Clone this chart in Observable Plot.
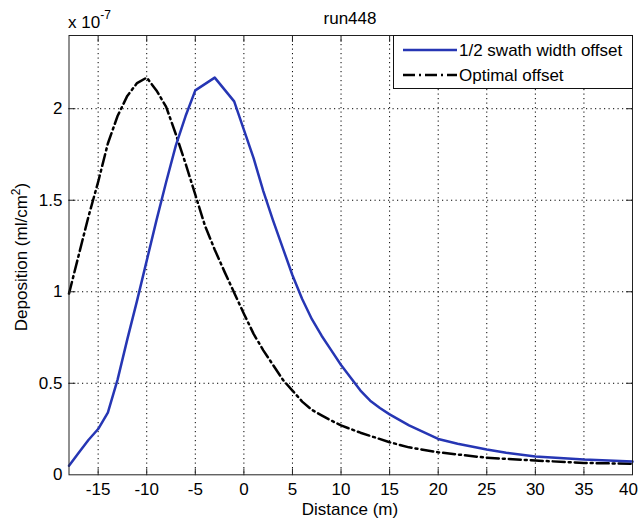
<!DOCTYPE html>
<html><head><meta charset="utf-8">
<script src="https://cdn.jsdelivr.net/npm/d3@7"></script>
<script src="https://cdn.jsdelivr.net/npm/@observablehq/plot@0.6"></script>
<style>body{margin:0;background:#fff}#chart{width:640px;height:523px}</style>
</head><body><div id="chart"></div>
<script>
// Values in units of 1e-7 ml/cm^2
const swathDistance = [-18,-17,-16,-15,-14,-13,-12,-11,-10,-9,-8,-7,-6,-5,-3,-1,1,2,3,4,5,6,7,8,9,10,11,12,13,14,15,16,17,18,20,22,25,27,30,35,40];
const swathDeposition = [0.05,0.12,0.19,0.25,0.34,0.52,0.74,0.95,1.17,1.39,1.60,1.80,1.96,2.10,2.17,2.04,1.73,1.55,1.39,1.24,1.09,0.96,0.85,0.76,0.68,0.60,0.53,0.46,0.405,0.365,0.33,0.30,0.27,0.245,0.196,0.17,0.138,0.12,0.10,0.083,0.072];
const optDistance = [-18,-17,-16,-15,-14,-13,-12,-11,-10,-9,-8,-7,-6,-5,-4,-3,-2,-1,0,1,2,3,4,5,6,7,8,9,10,12,15,17,20,25,30,35,40];
const optDeposition = [0.99,1.20,1.41,1.60,1.81,1.96,2.07,2.14,2.17,2.10,2.01,1.86,1.70,1.53,1.36,1.23,1.11,0.995,0.88,0.77,0.68,0.60,0.52,0.46,0.40,0.355,0.325,0.296,0.27,0.23,0.178,0.15,0.123,0.093,0.078,0.065,0.06];
const xTicks = [-15,-10,-5,0,5,10,15,20,25,30,35,40];
const yTicks = [0,0.5,1,1.5,2];
const seriesNames = ["1/2 swath width offset","Optimal offset"];
const titleText = "run448";
const xLabel = "Distance (m)";

const blue = "#2636b4";
const dashDot = "12,4,2,4";
const font = "'Liberation Sans', Arial, Helvetica, sans-serif";

const swath = swathDistance.map((x,i)=>({x, y: swathDeposition[i]}));
const opt = optDistance.map((x,i)=>({x, y: optDeposition[i]}));

const tickShape = {draw(ctx, l){ ctx.moveTo(0,0); ctx.lineTo(0,-l); }};
const innerX = xTicks.filter(d => d > -18 && d < 40);
const innerY = yTicks.filter(d => d > 0 && d < 2.4);
const gridStyle = {stroke: "#000", strokeWidth: 1, strokeDasharray: "1.2,3.3", strokeOpacity: 1};

const chart = Plot.plot({
  width: 640, height: 523,
  marginLeft: 68.5, marginRight: 8, marginTop: 35, marginBottom: 48.7,
  style: {fontFamily: font, fontSize: "17px", background: "white", color: "black"},
  x: {domain: [-18, 40]},
  y: {domain: [0, 2.4]},
  marks: [
    Plot.ruleX(innerX, gridStyle),
    Plot.ruleY(innerY, gridStyle),
    Plot.line(opt, {x: "x", y: "y", stroke: "#000", strokeWidth: 2.5, strokeDasharray: dashDot}),
    Plot.line(swath, {x: "x", y: "y", stroke: blue, strokeWidth: 2.5}),
    Plot.frame({stroke: "#222", strokeWidth: 1}),
    Plot.vector(innerX, {x: d => d, y: 0, rotate: 0, length: 6, anchor: "start", shape: tickShape, stroke: "#222", strokeWidth: 1}),
    Plot.vector(innerX, {x: d => d, y: 2.4, rotate: 180, length: 6, anchor: "start", shape: tickShape, stroke: "#222", strokeWidth: 1}),
    Plot.vector(innerY, {x: -18, y: d => d, rotate: 90, length: 6, anchor: "start", shape: tickShape, stroke: "#222", strokeWidth: 1}),
    Plot.vector(innerY, {x: 40, y: d => d, rotate: 270, length: 6, anchor: "start", shape: tickShape, stroke: "#222", strokeWidth: 1}),
    Plot.axisX({ticks: xTicks.slice(0, -1), tickSize: 0, tickPadding: 8, tickFormat: d => String(d), label: null}),
    Plot.axisX({ticks: xTicks.slice(-1), tickSize: 0, tickPadding: 8, dx: -4, tickFormat: d => String(d), label: null}),
    Plot.axisY({ticks: yTicks, tickSize: 0, tickPadding: 6.5, tickFormat: d => String(d), label: null})
  ]
});
document.getElementById("chart").appendChild(chart);

const svg = d3.select(chart);
const g = svg.append("g").attr("font-family", font).attr("font-size", 17).attr("fill", "black").attr("text-anchor", "start");
g.append("text").attr("x", 350).attr("y", 23.5).attr("text-anchor", "middle").text(titleText);
g.append("text").attr("x", 350).attr("y", 515).attr("text-anchor", "middle").text(xLabel);
const ex = g.append("text").attr("x", 68).attr("y", 28).attr("text-anchor", "start");
ex.append("tspan").text("x 10");
ex.append("tspan").attr("dy", -9).attr("font-size", 12).text("-7");
const yl = g.append("text").attr("transform", "translate(27,257) rotate(-90)").attr("text-anchor", "middle");
yl.append("tspan").text("Deposition (ml/cm");
yl.append("tspan").attr("dy", -7).attr("font-size", 12).text("2");
yl.append("tspan").attr("dy", 7).text(")");

// legend
const lg = g.append("g");
lg.append("rect").attr("x", 393.5).attr("y", 35.5).attr("width", 239).attr("height", 53).attr("fill", "white").attr("stroke", "#111");
lg.append("line").attr("x1", 403).attr("x2", 457).attr("y1", 50).attr("y2", 50).attr("stroke", blue).attr("stroke-width", 2.5);
lg.append("line").attr("x1", 403).attr("x2", 457).attr("y1", 75).attr("y2", 75).attr("stroke", "#000").attr("stroke-width", 2.5).attr("stroke-dasharray", dashDot);
lg.append("text").attr("x", 459).attr("y", 50).attr("dy", "0.36em").attr("text-anchor", "start").text(seriesNames[0]);
lg.append("text").attr("x", 459).attr("y", 75).attr("dy", "0.36em").attr("text-anchor", "start").text(seriesNames[1]);
</script>
</body></html>
